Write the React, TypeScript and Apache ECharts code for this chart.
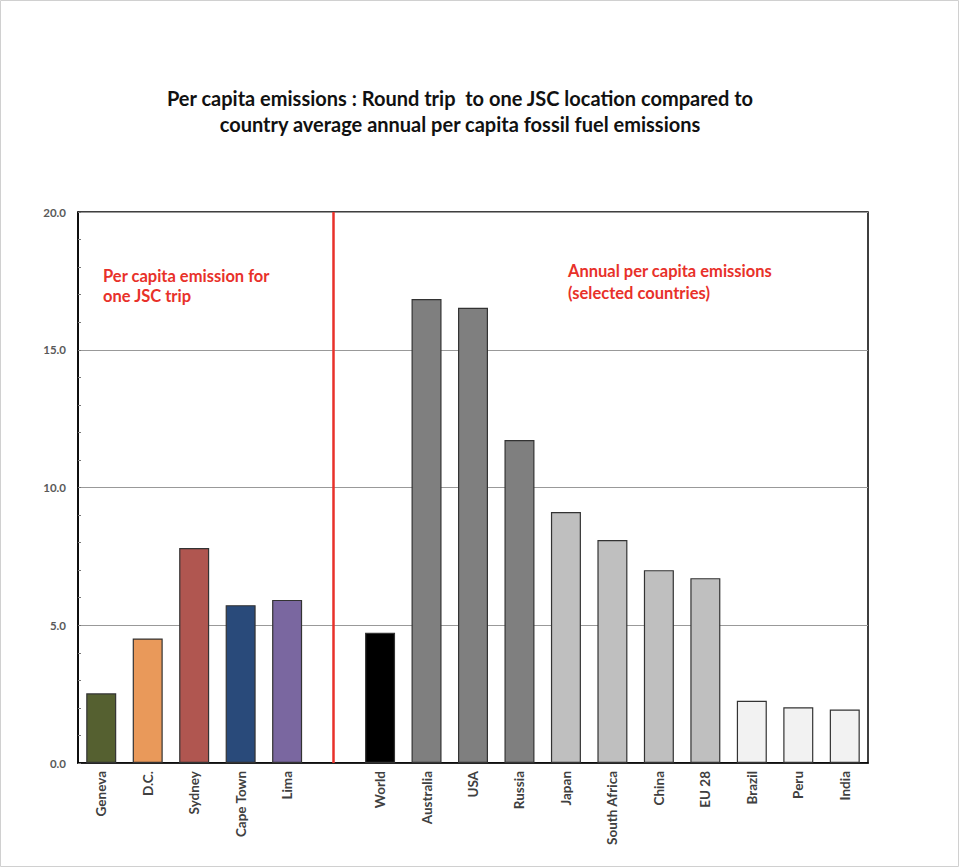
import React, { useEffect, useRef } from "react";
import * as echarts from "echarts";

const categories = ["Geneva", "D.C.", "Sydney", "Cape Town", "Lima", "", "World", "Australia", "USA", "Russia", "Japan", "South Africa", "China", "EU 28", "Brazil", "Peru", "India"];
const emissions: (number | null)[] = [2.53, 4.52, 7.8, 5.73, 5.92, null, 4.73, 16.84, 16.52, 11.72, 9.11, 8.09, 7.0, 6.71, 2.26, 2.02, 1.94];
const yTicks = [0, 5, 10, 15, 20];
const titleLines = ["Per capita emissions : Round trip  to one JSC location compared to", "country average annual per capita fossil fuel emissions"];
const leftNote = ["Per capita emission for", "one JSC trip"];
const rightNote = ["Annual per capita emissions", "(selected countries)"];

const barColors = ["#556030", "#E9995A", "#B05650", "#294A7A", "#7A67A0", "#ffffff", "#000000", "#7F7F7F", "#7F7F7F", "#7F7F7F", "#BFBFBF", "#BFBFBF", "#BFBFBF", "#BFBFBF", "#F2F2F2", "#F2F2F2", "#F2F2F2"];

const FONT = "Lato, 'Open Sans', sans-serif";

export default function App() {
  const ref = useRef<HTMLDivElement>(null);
  useEffect(() => {
    if (!ref.current) return;
    const chart = echarts.init(ref.current, undefined, { renderer: "svg" });
    chart.setOption({
      animation: false,
      backgroundColor: "#ffffff",
      grid: { left: 78, right: 92, top: 212, bottom: 105, show: true, borderColor: "#000", borderWidth: 1.5, backgroundColor: "transparent" },
      xAxis: {
        type: "category",
        data: categories,
        axisLine: { lineStyle: { color: "#000", width: 1.5 } },
        axisTick: { show: false },
        axisLabel: { rotate: 90, interval: 0, margin: 8, color: "#404040", fontWeight: "bold", fontSize: 13.5, fontFamily: FONT },
      },
      yAxis: {
        type: "value",
        min: yTicks[0],
        max: yTicks[yTicks.length - 1],
        interval: 5,
        axisLine: { show: true, lineStyle: { color: "#000", width: 1.5 } },
        axisTick: { show: true, inside: true, length: 3, lineStyle: { color: "#777" } },
        minorTick: { show: true, splitNumber: 5, length: 3, lineStyle: { color: "#777" } },
        splitLine: { show: true, lineStyle: { color: "#999", width: 1 } },
        axisLabel: { formatter: (v: number) => v.toFixed(1), color: "#595959", fontWeight: "bold", fontSize: 11.5, fontFamily: FONT, margin: 12 },
      },
      series: [
        {
          type: "bar",
          barWidth: 30,
          data: emissions.map((v, i) => ({ value: v, itemStyle: { color: barColors[i], borderColor: "#333", borderWidth: 1.2 } })),
          markLine: {
            silent: true,
            symbol: "none",
            label: { show: false },
            lineStyle: { color: "#E8312A", width: 2.5, type: "solid" },
            data: [{ xAxis: 5 }],
          },
        },
      ],
      graphic: [
        { type: "text", x: 460, y: 98, style: { text: titleLines[0], textAlign: "center", textVerticalAlign: "middle", fill: "#111", font: `bold 20px ${FONT}` } },
        { type: "text", x: 460, y: 124, style: { text: titleLines[1], textAlign: "center", textVerticalAlign: "middle", fill: "#111", font: `bold 20px ${FONT}` } },
        { type: "text", x: 103, y: 276, style: { text: leftNote[0], textVerticalAlign: "middle", fill: "#E8312A", font: `bold 16.5px ${FONT}` } },
        { type: "text", x: 103, y: 296, style: { text: leftNote[1], textVerticalAlign: "middle", fill: "#E8312A", font: `bold 16.5px ${FONT}` } },
        { type: "text", x: 568, y: 271, style: { text: rightNote[0], textVerticalAlign: "middle", fill: "#E8312A", font: `bold 16.5px ${FONT}` } },
        { type: "text", x: 568, y: 293, style: { text: rightNote[1], textVerticalAlign: "middle", fill: "#E8312A", font: `bold 16.5px ${FONT}` } },
        { type: "rect", shape: { x: 0.5, y: 0.5, width: 958, height: 866 }, style: { fill: "none", stroke: "#d0d0d0", lineWidth: 1 }, silent: true },
      ],
    });
    return () => chart.dispose();
  }, []);
  return <div ref={ref} style={{ position: "fixed", left: 0, top: 0, width: 960, height: 868 }} />;
}
